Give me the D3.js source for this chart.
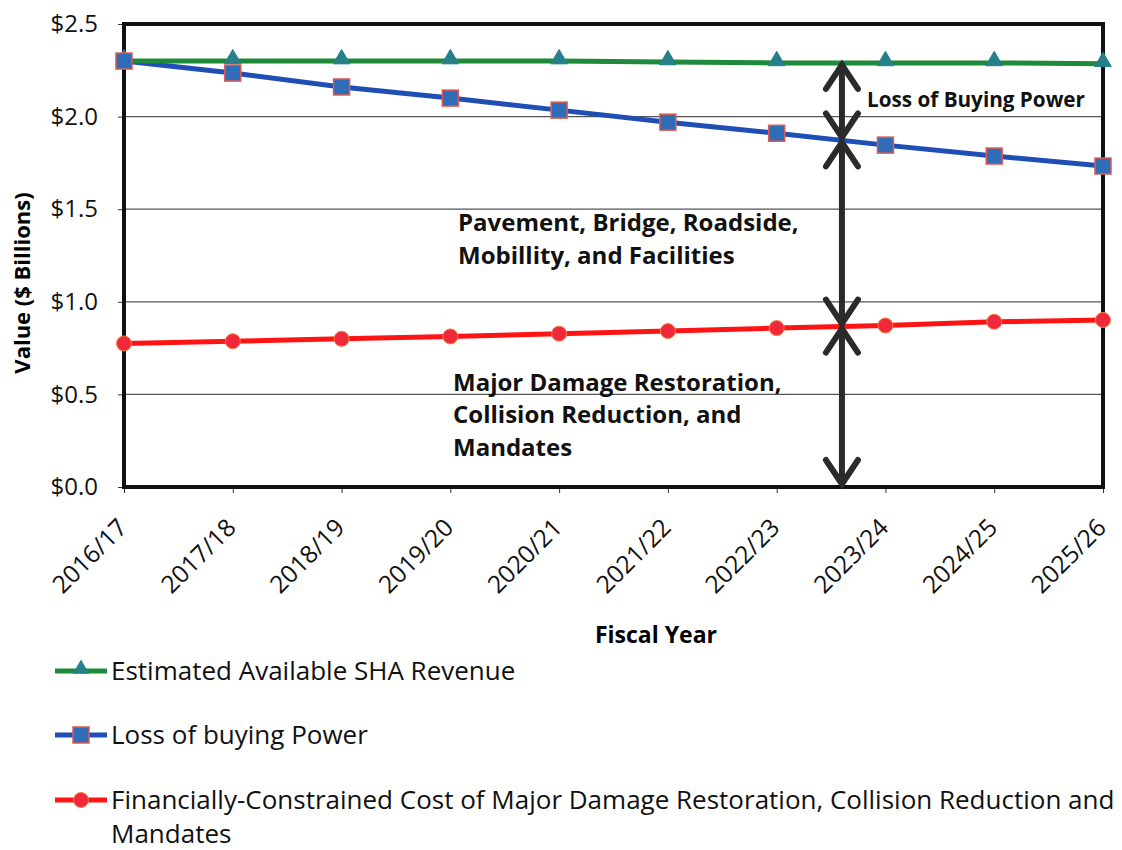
<!DOCTYPE html>
<html><head><meta charset="utf-8">
<script src="https://cdn.jsdelivr.net/npm/d3@7/dist/d3.min.js"></script>
<style>
body{margin:0;background:#fff;}
svg{font-family:"Open Sans",Lato,sans-serif;}
</style></head>
<body><svg id="c" width="1122" height="850"></svg>
<script>
const years = ["2016/17","2017/18","2018/19","2019/20","2020/21","2021/22","2022/23","2023/24","2024/25","2025/26"];
const revenue = [2.30,2.30,2.30,2.30,2.30,2.295,2.29,2.29,2.29,2.285];
const buyingPower = [2.30,2.235,2.16,2.10,2.035,1.97,1.91,1.846,1.787,1.733];
const constrainedCost = [0.775,0.787,0.80,0.813,0.828,0.842,0.858,0.872,0.892,0.902];
const yTicks = [0,0.5,1.0,1.5,2.0,2.5];
const seriesNames = ["Estimated Available SHA Revenue","Loss of buying  Power","Financially-Constrained Cost of Major Damage Restoration, Collision Reduction and"];

const svg = d3.select("#c");
const L=124,R=1103,T=24,B=487;
const x = d3.scalePoint().domain(years).range([L,R]);
const y = d3.scaleLinear().domain([0,2.5]).range([B,T]);

// gridlines
svg.append("g").selectAll("line").data(yTicks.filter(d=>d>0&&d<2.5)).join("line")
  .attr("x1",L).attr("x2",R).attr("y1",d=>y(d)).attr("y2",d=>y(d))
  .attr("stroke","#555").attr("stroke-width",1.2);

// y axis ticks/labels
const ya = svg.append("g").attr("transform",`translate(${L},0)`)
  .call(d3.axisLeft(y).tickValues(yTicks).tickFormat(d=>"$"+d.toFixed(1)).tickSize(6).tickPadding(20));
ya.select(".domain").remove();
ya.selectAll("text").attr("font-size",24).attr("fill","#111").attr("font-family","Open Sans");
ya.selectAll("line").attr("stroke","#333");

// x axis
const xa = svg.append("g").attr("transform",`translate(0,${B})`)
  .call(d3.axisBottom(x).tickSize(6).tickPadding(4));
xa.select(".domain").remove();
xa.selectAll("line").attr("stroke","#333");
xa.selectAll("text").attr("font-size",24.5).attr("fill","#111").attr("font-family","Open Sans")
  .attr("text-anchor","end").attr("dy","0").attr("transform","translate(-3,35) rotate(-45)");

// frame
svg.append("rect").attr("x",L).attr("y",T).attr("width",R-L).attr("height",B-T)
  .attr("fill","none").attr("stroke","#111").attr("stroke-width",4);

// series
const line = d3.line().x((d,i)=>x(years[i])).y(d=>y(d));
svg.append("path").datum(constrainedCost).attr("d",line).attr("fill","none").attr("stroke","#ff1414").attr("stroke-width",5);
svg.append("path").datum(buyingPower).attr("d",line).attr("fill","none").attr("stroke","#1f4fb4").attr("stroke-width",5);
svg.append("path").datum(revenue).attr("d",line).attr("fill","none").attr("stroke","#1e8a3a").attr("stroke-width",5);

const tri = d3.symbol().type(d3.symbolTriangle).size(120);
svg.append("g").selectAll("path").data(revenue).join("path")
  .attr("d",tri).attr("transform",(d,i)=>`translate(${x(years[i])},${y(d)-2})`)
  .attr("fill","#25808a").attr("stroke","#25808a");
svg.append("g").selectAll("rect").data(buyingPower).join("rect")
  .attr("x",(d,i)=>x(years[i])-8).attr("y",d=>y(d)-8).attr("width",16).attr("height",16)
  .attr("fill","#2f6db8").attr("stroke","#e05a50").attr("stroke-width",1.5);
svg.append("g").selectAll("circle").data(constrainedCost).join("circle")
  .attr("cx",(d,i)=>x(years[i])).attr("cy",d=>y(d)).attr("r",7.5)
  .attr("fill","#f0283c").attr("stroke","#f08040").attr("stroke-width",1);

// arrows
const ax = x(years[6]) + 0.6*(x(years[7])-x(years[6]));
const interp = arr => arr[6]+0.6*(arr[7]-arr[6]);
const arrows = [[interp(revenue),interp(buyingPower)],[interp(buyingPower),interp(constrainedCost)],[interp(constrainedCost),0]];
const ag = svg.append("g").attr("stroke","#2b2b2b").attr("fill","none").attr("stroke-width",6).attr("stroke-linecap","round").attr("stroke-linejoin","miter");
arrows.forEach(([a,b])=>{
  const y1=y(a)+2, y2=y(b)-3;
  ag.append("line").attr("x1",ax).attr("x2",ax).attr("y1",y1).attr("y2",y2);
  ag.append("path").attr("d",`M${ax-16},${y1+24}L${ax},${y1}L${ax+16},${y1+24}`);
  ag.append("path").attr("d",`M${ax-16},${y2-24}L${ax},${y2}L${ax+16},${y2-24}`);
});

// annotation text
const ann = svg.append("g").attr("font-weight","bold").attr("fill","#111");
ann.append("text").attr("x",867).attr("y",107).attr("font-size",20.7).text("Loss of Buying  Power");
const big = ann.append("g").attr("font-size",24);
big.append("text").attr("x",458).attr("y",231).text("Pavement, Bridge, Roadside,");
big.append("text").attr("x",458).attr("y",264).text("Mobillity, and Facilities");
big.append("text").attr("x",453).attr("y",391).text("Major Damage  Restoration,");
big.append("text").attr("x",453).attr("y",423).text("Collision Reduction, and");
big.append("text").attr("x",453).attr("y",456).text("Mandates");

// axis titles
svg.append("text").attr("x",656).attr("y",643).attr("text-anchor","middle").attr("font-weight","bold").attr("font-size",23).text("Fiscal Year");
svg.append("text").attr("transform","translate(30,283) rotate(-90)").attr("text-anchor","middle").attr("font-weight","bold").attr("font-size",22).text("Value ($ Billions)");

// legend
const leg = [{c:"#1e8a3a",m:"tri",f:"#25808a",s:"#25808a"},{c:"#1f4fb4",m:"sq",f:"#2f6db8",s:"#e05a50"},{c:"#ff1414",m:"ci",f:"#f0283c",s:"#f08040"}];
const ly = [671,735,800];
leg.forEach((l,i)=>{
  const g = svg.append("g").attr("transform",`translate(0,${ly[i]})`);
  g.append("line").attr("x1",55).attr("x2",107).attr("y1",0).attr("y2",0).attr("stroke",l.c).attr("stroke-width",5);
  if(l.m==="tri") g.append("path").attr("d",tri).attr("transform","translate(81,-2)").attr("fill",l.f);
  if(l.m==="sq") g.append("rect").attr("x",73).attr("y",-8).attr("width",16).attr("height",16).attr("fill",l.f).attr("stroke",l.s).attr("stroke-width",1.5);
  if(l.m==="ci") g.append("circle").attr("cx",81).attr("cy",0).attr("r",7.5).attr("fill",l.f).attr("stroke",l.s);
  g.append("text").attr("x",111).attr("y",9).attr("font-size",26).attr("fill","#111").text(seriesNames[i]);
});
svg.append("text").attr("x",111).attr("y",843).attr("font-size",26).attr("fill","#111").text("Mandates");
</script></body></html>
